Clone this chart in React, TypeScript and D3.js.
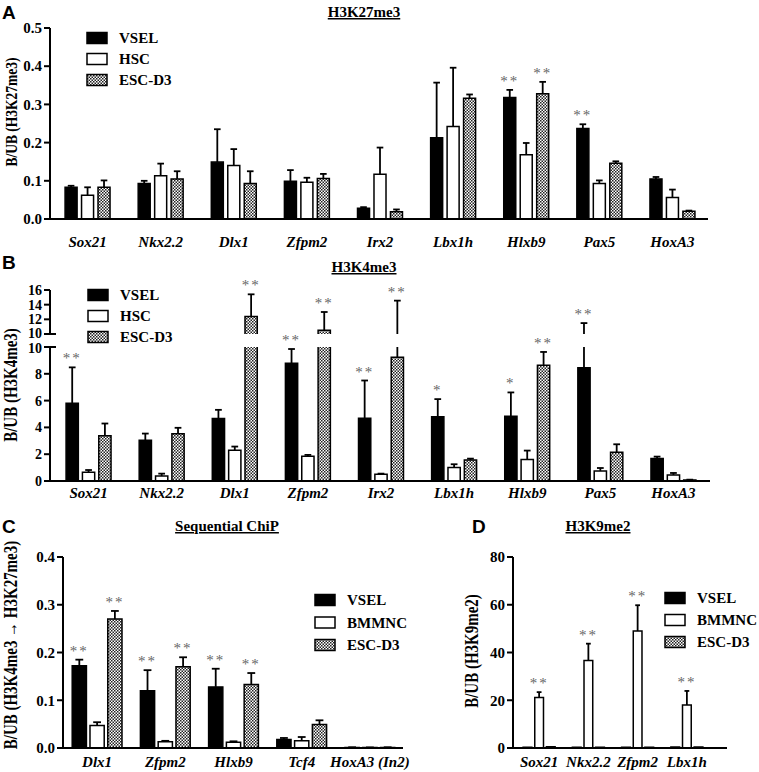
import React from "react";
import * as d3 from "d3";

// ---------------- DATA ----------------
const seriesAB = ["VSEL", "HSC", "ESC-D3"];
const seriesCD = ["VSEL", "BMMNC", "ESC-D3"];

const genesAB = ["Sox21", "Nkx2.2", "Dlx1", "Zfpm2", "Irx2", "Lbx1h", "Hlxb9", "Pax5", "HoxA3"];

// Panel A: H3K27me3
const aVsel = [0.083, 0.093, 0.149, 0.099, 0.028, 0.213, 0.318, 0.237, 0.105];
const aVselErr = [0.004, 0.007, 0.086, 0.029, 0.003, 0.144, 0.02, 0.011, 0.005];
const aHsc = [0.062, 0.113, 0.14, 0.096, 0.117, 0.242, 0.168, 0.093, 0.056];
const aHscErr = [0.021, 0.032, 0.043, 0.012, 0.07, 0.154, 0.031, 0.008, 0.021];
const aEsc = [0.083, 0.105, 0.093, 0.106, 0.019, 0.316, 0.328, 0.146, 0.02];
const aEscErr = [0.018, 0.02, 0.032, 0.012, 0.006, 0.01, 0.031, 0.005, 0.002];
const starsA: [number, number, string][] = [[6, 0, "**"], [6, 2, "**"], [7, 0, "**"]];
const ticksA = [0, 0.1, 0.2, 0.3, 0.4, 0.5];

// Panel B: H3K4me3 (broken axis)
const bVsel = [5.81, 3.04, 4.66, 8.78, 4.69, 4.79, 4.84, 8.45, 1.67];
const bVselErr = [2.67, 0.5, 0.65, 1.07, 2.81, 1.32, 1.77, 3.04, 0.15];
const bHsc = [0.65, 0.37, 2.29, 1.85, 0.5, 1.0, 1.6, 0.75, 0.45];
const bHscErr = [0.17, 0.18, 0.28, 0.1, 0.05, 0.25, 0.67, 0.22, 0.15];
const bEsc = [3.37, 3.52, 12.39, 10.5, 9.23, 1.57, 8.63, 2.14, 0.08];
const bEscErr = [0.92, 0.45, 3.02, 2.5, 5.32, 0.1, 1.0, 0.6, 0.02];
const starsB: [number, number, string][] = [
  [0, 0, "**"], [2, 2, "**"], [3, 0, "**"], [3, 2, "**"], [4, 0, "**"],
  [4, 2, "**"], [5, 0, "*"], [6, 0, "*"], [6, 2, "**"], [7, 0, "**"],
];
const ticksBLower = [0, 2, 4, 6, 8, 10];
const ticksBUpper = [10, 12, 14, 16];

// Panel C: Sequential ChIP
const genesC = ["Dlx1", "Zfpm2", "Hlxb9", "Tcf4", "HoxA3 (In2)"];
const cVsel = [0.172, 0.12, 0.128, 0.018, 0.0012];
const cVselErr = [0.013, 0.043, 0.038, 0.003, 0.0003];
const cBm = [0.047, 0.013, 0.012, 0.015, 0.001];
const cBmErr = [0.007, 0.002, 0.002, 0.008, 0.0002];
const cEsc = [0.27, 0.17, 0.133, 0.049, 0.0012];
const cEscErr = [0.017, 0.02, 0.024, 0.009, 0.0003];
const starsC: [number, number, string][] = [[0, 0, "**"], [0, 2, "**"], [1, 0, "**"], [1, 2, "**"], [2, 0, "**"], [2, 2, "**"]];
const ticksC = [0, 0.1, 0.2, 0.3, 0.4];

// Panel D: H3K9me2
const genesD = ["Sox21", "Nkx2.2", "Zfpm2", "Lbx1h"];
const dVsel = [0.3, 0.3, 0.3, 0.4];
const dVselErr = [0, 0, 0, 0];
const dBm = [21.1, 36.6, 49.0, 18.0];
const dBmErr = [2.3, 7.1, 10.8, 5.9];
const dEsc = [0.5, 0.3, 0.3, 0.4];
const dEscErr = [0, 0, 0, 0];
const starsD: [number, number, string][] = [[0, 1, "**"], [1, 1, "**"], [2, 1, "**"], [3, 1, "**"]];
const ticksD = [0, 20, 40, 60, 80];

// ---------------- STYLE ----------------
const SERIF = "'Liberation Serif', 'Times New Roman', serif";
const SANS = "'Liberation Sans', Arial, sans-serif";
const FILLS = ["#000", "#fff", "url(#checker)"];

type Segment = {
  lo: number;
  hi: number;
  scale: d3.ScaleLinear<number, number>;
  ticks: number[];
  fmt: (v: number) => string;
  breakLo?: boolean;
  breakHi?: boolean;
  labelShift?: number;
};

type PanelProps = {
  id: string;
  cats: string[];
  vals: number[][];
  errs: number[][];
  stars: [number, number, string][];
  xr: [number, number];
  pad: number;
  subPad: number;
  axisX: number;
  axisEnd: number;
  segments: Segment[];
  labelY: number;
  tickFont: number;
};

function Panel(p: PanelProps) {
  const x = d3
    .scaleBand<string>()
    .domain(p.cats)
    .range(p.xr)
    .paddingInner(p.pad)
    .paddingOuter(p.pad / 2);
  const xs = d3
    .scaleBand<number>()
    .domain([0, 1, 2])
    .range([0, x.bandwidth()])
    .paddingInner(p.subPad);
  const bw = xs.bandwidth();
  const cap = bw * 0.55;
  const base = p.segments[0].scale(0);
  const elems: React.ReactNode[] = [];

  p.cats.forEach((c, ci) => {
    p.vals.forEach((sv, si) => {
      const v = sv[ci];
      const e = p.errs[si][ci];
      const top = v + e;
      const bx = (x(c) as number) + (xs(si) as number);
      const cx = bx + bw / 2;
      let capY: number | null = null;
      p.segments.forEach((sg, gi) => {
        const s = sg.scale;
        if (v > sg.lo) {
          const hiV = Math.min(v, sg.hi);
          const y0 = s(sg.lo);
          const y1 = s(hiV);
          const closedTop = v <= sg.hi;
          elems.push(
            <rect key={`${p.id}r${ci}-${si}-${gi}`} x={bx} y={y1} width={bw} height={Math.max(0, y0 - y1)} fill={FILLS[si]} />
          );
          const d = closedTop
            ? `M${bx},${y0}V${y1}H${bx + bw}V${y0}`
            : `M${bx},${y0}V${y1}M${bx + bw},${y1}V${y0}`;
          elems.push(
            <path key={`${p.id}o${ci}-${si}-${gi}`} d={d} fill="none" stroke="#000" strokeWidth={1.5} />
          );
        }
        if (e > 0) {
          const a = Math.max(v, sg.lo);
          const b = Math.min(top, sg.hi);
          if (b > a) {
            elems.push(
              <line key={`${p.id}e${ci}-${si}-${gi}`} x1={cx} x2={cx} y1={s(a)} y2={s(b)} stroke="#000" strokeWidth={1.8} />
            );
          }
          if (top >= sg.lo && top <= sg.hi) {
            capY = s(top);
            elems.push(
              <line key={`${p.id}c${ci}-${si}-${gi}`} x1={cx - cap / 2} x2={cx + cap / 2} y1={capY} y2={capY} stroke="#000" strokeWidth={1.8} />
            );
          }
        }
      });
      const st = p.stars.find((q) => q[0] === ci && q[1] === si);
      if (st) {
        const yy = capY !== null ? capY : p.segments[0].scale(v);
        elems.push(
          <text key={`${p.id}s${ci}-${si}`} x={cx} y={yy - 4} textAnchor="middle" fontFamily={SERIF} fontSize={15} fill="#666" letterSpacing={2}>
            {st[2]}
          </text>
        );
      }
    });
  });

  const axis: React.ReactNode[] = [];
  p.segments.forEach((sg, gi) => {
    const s = sg.scale;
    axis.push(
      <line key={`${p.id}ya${gi}`} x1={p.axisX} x2={p.axisX} y1={s(sg.lo) + (gi === 0 ? 1 : 0)} y2={s(sg.hi)} stroke="#000" strokeWidth={2} />
    );
    sg.ticks.forEach((t) => {
      const isBreak = (t === sg.hi && sg.breakHi) || (t === sg.lo && sg.breakLo);
      const shift = isBreak ? sg.labelShift || 0 : 0;
      axis.push(
        <line key={`${p.id}t${gi}-${t}`} x1={p.axisX - 6} x2={isBreak ? p.axisX + 6 : p.axisX} y1={s(t)} y2={s(t)} stroke="#000" strokeWidth={2} />
      );
      axis.push(
        <text key={`${p.id}tl${gi}-${t}`} x={p.axisX - 8} y={s(t) + shift} dy="0.35em" textAnchor="end" fontFamily={SERIF} fontWeight="bold" fontSize={p.tickFont}>
          {sg.fmt(t)}
        </text>
      );
    });
  });
  axis.push(
    <line key={`${p.id}xa`} x1={p.axisX - 1} x2={p.axisEnd} y1={base} y2={base} stroke="#000" strokeWidth={2} />
  );
  p.cats.forEach((c) => {
    axis.push(
      <text key={`${p.id}xl${c}`} x={(x(c) as number) + x.bandwidth() / 2} y={p.labelY} textAnchor="middle" fontFamily={SERIF} fontWeight="bold" fontStyle="italic" fontSize={15}>
        {c}
      </text>
    );
  });

  return (
    <g>
      {elems}
      {axis}
    </g>
  );
}

function Legend({ names, x, y, dy }: { names: string[]; x: number; y: number; dy: number }) {
  return (
    <g>
      {names.map((n, i) => (
        <g key={n}>
          <rect x={x} y={y + i * dy - 5.5} width={20} height={11} fill={FILLS[i]} stroke="#000" strokeWidth={1.5} />
          <text x={x + 32} y={y + i * dy} dy="0.35em" fontFamily={SERIF} fontWeight="bold" fontSize={15}>
            {n}
          </text>
        </g>
      ))}
    </g>
  );
}

function YLabel({ x, y, text, size }: { x: number; y: number; text: string; size: number }) {
  return (
    <text transform={`translate(${x},${y}) rotate(-90) scale(1,1.2)`} textAnchor="middle" fontFamily={SERIF} fontWeight="bold" fontSize={size}>
      {text}
    </text>
  );
}

function Title({ x, y, text }: { x: number; y: number; text: string }) {
  return (
    <text x={x} y={y} textAnchor="middle" fontFamily={SERIF} fontWeight="bold" fontSize={15} textDecoration="underline">
      {text}
    </text>
  );
}

function Letter({ x, y, text }: { x: number; y: number; text: string }) {
  return (
    <text x={x} y={y} fontFamily={SANS} fontWeight="bold" fontSize={19}>
      {text}
    </text>
  );
}

export default function App() {
  const f1 = d3.format(".1f");
  const f0 = d3.format("d");

  const segA: Segment[] = [
    { lo: 0, hi: 0.5, scale: d3.scaleLinear().domain([0, 0.5]).range([219, 28]), ticks: ticksA, fmt: f1 },
  ];
  const segB: Segment[] = [
    { lo: 0, hi: 10, scale: d3.scaleLinear().domain([0, 10]).range([481, 347]), ticks: ticksBLower, fmt: f0, breakHi: true, labelShift: 1 },
    { lo: 10, hi: 16, scale: d3.scaleLinear().domain([10, 16]).range([334, 290]), ticks: ticksBUpper, fmt: f0, breakLo: true, labelShift: -1 },
  ];
  const segC: Segment[] = [
    { lo: 0, hi: 0.4, scale: d3.scaleLinear().domain([0, 0.4]).range([748, 557]), ticks: ticksC, fmt: f1 },
  ];
  const segD: Segment[] = [
    { lo: 0, hi: 80, scale: d3.scaleLinear().domain([0, 80]).range([748, 557]), ticks: ticksD, fmt: f0 },
  ];

  return (
    <svg width={759} height={772} style={{ position: "absolute", left: 0, top: 0, background: "#fff" }}>
      <defs>
        <pattern id="checker" width={3} height={3} patternUnits="userSpaceOnUse">
          <rect width={3} height={3} fill="#fff" />
          <rect x={0} y={0} width={1.5} height={1.5} fill="#222" />
          <rect x={1.5} y={1.5} width={1.5} height={1.5} fill="#222" />
        </pattern>
      </defs>
      <rect width={759} height={772} fill="#fff" />

      {/* Panel A */}
      <Letter x={2} y={19} text="A" />
      <Title x={364} y={17} text="H3K27me3" />
      <YLabel x={17} y={112} text="B/UB (H3K27me3)" size={13.5} />
      <Panel id="A" cats={genesAB} vals={[aVsel, aHsc, aEsc]} errs={[aVselErr, aHscErr, aEscErr]} stars={starsA}
        xr={[51, 709]} pad={0.385} subPad={0.27} axisX={50} axisEnd={708} segments={segA} labelY={247} tickFont={15} />
      <Legend names={seriesAB} x={87} y={38} dy={21} />

      {/* Panel B */}
      <Letter x={2} y={269} text="B" />
      <Title x={364} y={272} text="H3K4me3" />
      <YLabel x={17} y={385} text="B/UB (H3K4me3)" size={15} />
      <Panel id="B" cats={genesAB} vals={[bVsel, bHsc, bEsc]} errs={[bVselErr, bHscErr, bEscErr]} stars={starsB}
        xr={[52, 710]} pad={0.385} subPad={0.25} axisX={50} axisEnd={710} segments={segB} labelY={498} tickFont={14} />
      <Legend names={seriesAB} x={88} y={295} dy={21} />

      {/* Panel C */}
      <Letter x={2} y={533} text="C" />
      <Title x={227} y={531} text="Sequential ChiP" />
      <YLabel x={17} y={645} text="B/UB (H3K4me3 → H3K27me3)" size={15} />
      <Panel id="C" cats={genesC} vals={[cVsel, cBm, cEsc]} errs={[cVselErr, cBmErr, cEscErr]} stars={starsC}
        xr={[63, 404]} pad={0.27} subPad={0.2} axisX={63} axisEnd={403} segments={segC} labelY={767} tickFont={15} />
      <Legend names={seriesCD} x={315} y={600} dy={22.5} />

      {/* Panel D */}
      <Letter x={472} y={533} text="D" />
      <Title x={598} y={531} text="H3K9me2" />
      <YLabel x={478} y={651} text="B/UB (H3K9me2)" size={15} />
      <Panel id="D" cats={genesD} vals={[dVsel, dBm, dEsc]} errs={[dVselErr, dBmErr, dEscErr]} stars={starsD}
        xr={[514.5, 711.5]} pad={0.35} subPad={0.25} axisX={513} axisEnd={727} segments={segD} labelY={767} tickFont={15} />
      <Legend names={seriesCD} x={665} y={598} dy={22} />
    </svg>
  );
}
